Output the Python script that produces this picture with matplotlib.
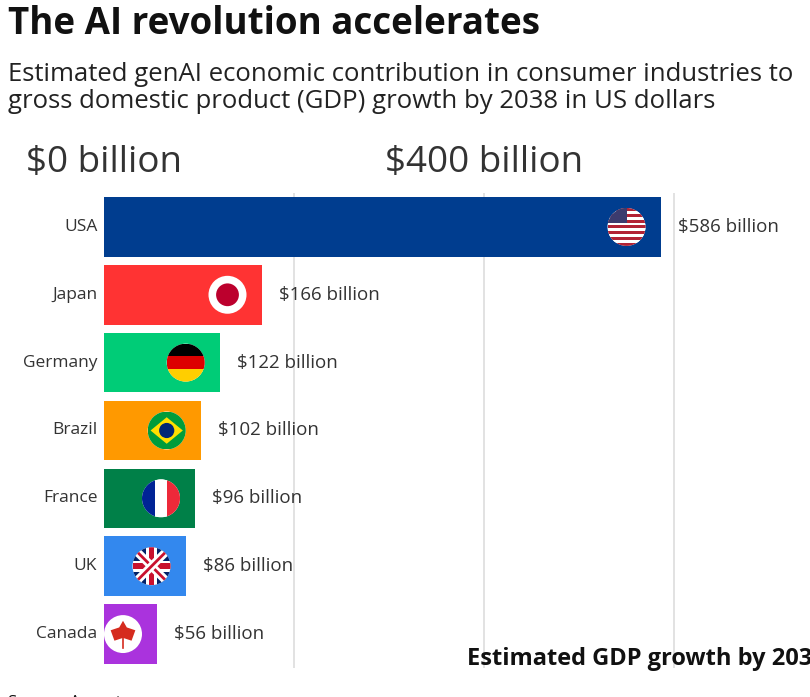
import matplotlib
matplotlib.use("Agg")
import matplotlib.pyplot as plt
from matplotlib.patches import Ellipse, Rectangle

plt.rcParams["font.family"] = ["Open Sans", "DejaVu Sans"]

countries = ["USA", "Japan", "Germany", "Brazil", "France", "UK", "Canada"]
values = [586, 166, 122, 102, 96, 86, 56]
colors = ["#003d8f", "#ff3333", "#00cc77", "#ff9900", "#008048", "#3388ee", "#aa33dd"]
value_labels = [f"${v} billion" for v in values]
ticks = [0, 200, 400, 600]

W, H = 810, 697
fig = plt.figure(figsize=(W / 100, H / 100), dpi=100)
ax = fig.add_axes([104 / W, 1 - 668 / H, (W - 104) / W, (668 - 193) / H])
xmax = (W - 104) / 0.95
ax.set_xlim(0, xmax)
ax.set_ylim(len(countries) - 0.5, -0.5)
for s in ax.spines.values():
    s.set_visible(False)
ax.set_xticks([])
ax.set_yticks([])
for t in ticks[1:]:
    ax.axvline(t, color="#dddddd", lw=1.2, zorder=0)

y = list(range(len(countries)))
ax.barh(y, values, height=0.88, color=colors, zorder=2)

rx = 19 / 0.95
ry = 19 / 68.0


def flag(cx, cy, kind):
    circ = Ellipse((cx, cy), 2 * rx, 2 * ry, facecolor="white", edgecolor="none", zorder=3)
    ax.add_patch(circ)

    def stripe(x0, y0, w, h, c):
        r = Rectangle((x0, y0), w, h, facecolor=c, edgecolor="none", zorder=4)
        ax.add_patch(r)
        r.set_clip_path(circ)

    if kind == "USA":
        n = 13
        for i in range(n):
            stripe(cx - rx, cy - ry + i * 2 * ry / n, 2 * rx, 2 * ry / n,
                   "#b22234" if i % 2 == 0 else "white")
        stripe(cx - rx, cy - ry, rx, ry * 7 / 13 * 2 * 0.75, "#3c3b6e")
    elif kind == "Japan":
        ax.add_patch(Ellipse((cx, cy), 1.2 * rx, 1.2 * ry, facecolor="#bc002d", zorder=4))
    elif kind == "Germany":
        for i, c in enumerate(["#000000", "#dd0000", "#ffce00"]):
            stripe(cx - rx, cy - ry + i * 2 * ry / 3, 2 * rx, 2 * ry / 3, c)
    elif kind == "Brazil":
        stripe(cx - rx, cy - ry, 2 * rx, 2 * ry, "#009c3b")
        d = plt.Polygon([(cx - 0.85 * rx, cy), (cx, cy - 0.7 * ry), (cx + 0.85 * rx, cy),
                         (cx, cy + 0.7 * ry)], facecolor="#ffdf00", zorder=5)
        ax.add_patch(d)
        ax.add_patch(Ellipse((cx, cy), 0.8 * rx, 0.8 * ry, facecolor="#002776", zorder=6))
    elif kind == "France":
        for i, c in enumerate(["#002395", "white", "#ed2939"]):
            stripe(cx - rx + i * 2 * rx / 3, cy - ry, 2 * rx / 3, 2 * ry, c)
    elif kind == "UK":
        stripe(cx - rx, cy - ry, 2 * rx, 2 * ry, "#012169")
        for sgn in (1, -1):
            l, = ax.plot([cx - rx, cx + rx], [cy - sgn * ry, cy + sgn * ry], color="white", lw=6, zorder=5)
            l.set_clip_path(circ)
            l, = ax.plot([cx - rx, cx + rx], [cy - sgn * ry, cy + sgn * ry], color="#c8102e", lw=2, zorder=5)
            l.set_clip_path(circ)
        stripe(cx - 0.3 * rx, cy - ry, 0.6 * rx, 2 * ry, "white")
        stripe(cx - rx, cy - 0.3 * ry, 2 * rx, 0.6 * ry, "white")
        stripe(cx - 0.15 * rx, cy - ry, 0.3 * rx, 2 * ry, "#c8102e")
        stripe(cx - rx, cy - 0.15 * ry, 2 * rx, 0.3 * ry, "#c8102e")
    elif kind == "Canada":
        ax.add_patch(plt.Polygon([(cx, cy - 0.7 * ry), (cx + 0.2 * rx, cy - 0.35 * ry),
                                  (cx + 0.65 * rx, cy - 0.2 * ry), (cx + 0.45 * rx, cy + 0.35 * ry),
                                  (cx, cy + 0.2 * ry), (cx - 0.45 * rx, cy + 0.35 * ry),
                                  (cx - 0.65 * rx, cy - 0.2 * ry), (cx - 0.2 * rx, cy - 0.35 * ry)],
                                 facecolor="#d52b1e", zorder=5))
        ax.plot([cx, cx], [cy + 0.1 * ry, cy + 0.75 * ry], color="#d52b1e", lw=1.2, zorder=5)


for i, (c, v, lab) in enumerate(zip(countries, values, value_labels)):
    ax.text(-7, i, c, ha="right", va="center", fontsize=12.5, color="#333333")
    ax.text(v + 18, i, lab, ha="left", va="center", fontsize=13.5, color="#333333")
    flag(v - 36, i, c)

for t in [0, 400]:
    fig.text((104 + t * 0.95) / W, 1 - 163 / H, f"${t} billion", ha="center", va="center",
             fontsize=26.5, color="#333333")

fig.text(8 / W, 1 - 24 / H, "The AI revolution accelerates", fontsize=26.5, fontweight="bold",
         va="center", color="#111111")
fig.text(8 / W, 1 - 88 / H,
         "Estimated genAI economic contribution in consumer industries to\n"
         "gross domestic product (GDP) growth by 2038 in US dollars",
         fontsize=18.5, va="center", color="#222222", linespacing=1.1)
fig.text(467 / W, 1 - 659 / H, "Estimated GDP growth by 2038", fontsize=17, fontweight="bold",
         va="center", color="#111111")
fig.text(8 / W, 1 - 703 / H, "Source: Accenture", fontsize=12, va="center", color="#111111")

fig.savefig("out.png", dpi=100)
